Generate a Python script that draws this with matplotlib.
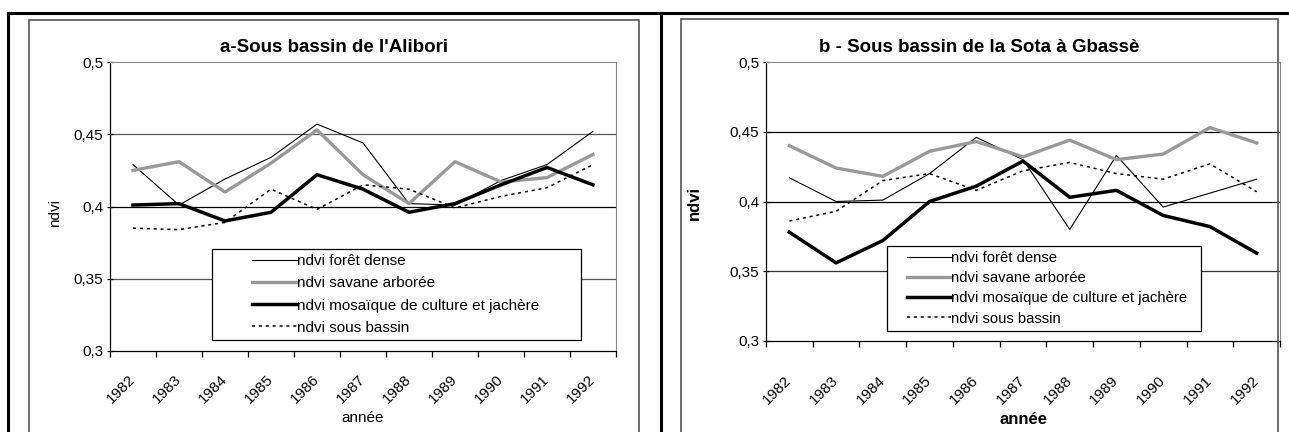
import numpy as np
import matplotlib
matplotlib.use('Agg')
import matplotlib.pyplot as plt
from matplotlib.patches import Rectangle
from matplotlib.lines import Line2D
from matplotlib.transforms import ScaledTranslation

plt.rcParams['font.family'] = ['Liberation Sans', 'DejaVu Sans']

years = ['1982', '1983', '1984', '1985', '1986', '1987', '1988', '1989', '1990', '1991', '1992']

# a - Alibori
a_foret = [0.429, 0.401, 0.419, 0.434, 0.457, 0.444, 0.402, 0.401, 0.418, 0.429, 0.452]
a_savane = [0.425, 0.431, 0.410, 0.430, 0.453, 0.422, 0.402, 0.431, 0.417, 0.420, 0.436]
a_mosaique = [0.401, 0.402, 0.390, 0.396, 0.422, 0.412, 0.396, 0.402, 0.415, 0.427, 0.415]
a_bassin = [0.385, 0.384, 0.389, 0.412, 0.398, 0.415, 0.412, 0.399, 0.407, 0.413, 0.429]

# b - Sota a Gbasse
b_foret = [0.417, 0.400, 0.401, 0.420, 0.446, 0.430, 0.380, 0.433, 0.396, 0.406, 0.416]
b_savane = [0.440, 0.424, 0.418, 0.436, 0.443, 0.432, 0.444, 0.430, 0.434, 0.453, 0.442]
b_mosaique = [0.378, 0.356, 0.372, 0.400, 0.411, 0.429, 0.403, 0.408, 0.390, 0.382, 0.363]
b_bassin = [0.386, 0.393, 0.415, 0.420, 0.408, 0.422, 0.428, 0.420, 0.416, 0.427, 0.407]

labels = ['ndvi forêt dense', 'ndvi savane arborée',
          'ndvi mosaïque de culture et jachère', 'ndvi sous bassin']
yticks = [0.3, 0.35, 0.4, 0.45, 0.5]
ytick_labels = ['0,3', '0,35', '0,4', '0,45', '0,5']

W, H = 1289, 432
fig = plt.figure(figsize=(W/100, H/100), dpi=100)

def px(x0, y0, x1, y1):
    # pixel box -> figure fraction [left, bottom, width, height]
    return [x0/W, 1-y1/H, (x1-x0)/W, (y1-y0)/H]

# outer thick lines
fig.add_artist(Line2D([8/W, 1], [1-13/H, 1-13/H], color='black', lw=2.2))
fig.add_artist(Line2D([8/W, 8/W], [1-13/H, 0], color='black', lw=2.2))
fig.add_artist(Line2D([661/W, 661/W], [1-13/H, 0], color='black', lw=2.2))
# chart frames
fig.add_artist(Rectangle((29/W, -0.05), (639-29)/W, 1.05-20/H, transform=fig.transFigure,
                         fill=False, ec='#555555', lw=1.2))
fig.add_artist(Rectangle((681/W, -0.05), (1278-681)/W, 1.05-19/H, transform=fig.transFigure,
                         fill=False, ec='#555555', lw=1.2))


def panel(pbox, frame_x, title, series, bold, grid_cols, legbox, handle_x,
          leg_fs, leg_sp, xpad, xl_y, yl_x, yl_y):
    x0, y0, x1, y1 = pbox
    ax = fig.add_axes(px(*pbox))
    tx = lambda p: (p - x0) / (x1 - x0)
    ty = lambda p: (y1 - p) / (y1 - y0)
    x = np.arange(len(years))
    ax.plot(x, series[0], color='black', lw=0.8, label=labels[0])
    ax.plot(x, series[1], color='#999999', lw=2.4, label=labels[1])
    ax.plot(x, series[2], color='black', lw=2.5, label=labels[2])
    ax.plot(x, series[3], color='black', lw=1.1, ls=(0, (2, 2.5)), label=labels[3])
    ax.set_xlim(-0.5, len(years)-0.5)
    ax.set_ylim(0.3, 0.5)
    for yv, c in zip([0.35, 0.4, 0.45], grid_cols):
        ax.axhline(yv, color=c, lw=0.9, zorder=0)
    ax.set_yticks(yticks)
    ax.set_yticklabels(ytick_labels, fontsize=11)
    ax.set_xticks(np.arange(len(years)+1)-0.5)
    ax.set_xticklabels([])
    ax.set_xticks(x, minor=True)
    ax.set_xticklabels(years, minor=True, rotation=45, ha='right', va='center',
                       rotation_mode='anchor', fontsize=11)
    for lab in ax.get_xticklabels(minor=True):
        lab.set_transform(lab.get_transform() + ScaledTranslation(-3/100, 0, fig.dpi_scale_trans))
    ax.tick_params(axis='x', which='minor', length=0, pad=xpad)
    ax.tick_params(axis='x', which='major', length=4, width=0.9, direction='out')
    ax.tick_params(axis='y', length=4, width=0.9, direction='inout', pad=3)
    ax.spines['top'].set_color('#888888')
    ax.spines['right'].set_color('#888888')
    ax.spines['left'].set_linewidth(0.9)
    ax.spines['bottom'].set_linewidth(0.9)
    fig.text(frame_x/W, 1-47/H, title, fontsize=13.5, fontweight='bold',
             ha='center', va='center')
    w = 'bold' if bold else 'normal'
    fs = 12 if bold else 11
    ax.set_ylabel('ndvi', fontsize=fs, fontweight=w)
    ax.yaxis.set_label_coords(tx(yl_x), ty(yl_y))
    ax.set_xlabel('année', fontsize=fs, fontweight=w)
    ax.xaxis.set_label_coords(0.5, ty(xl_y))
    # legend box
    lx0, ly0, lx1, ly1 = legbox
    ax.add_patch(Rectangle((tx(lx0), ty(ly1)), tx(lx1)-tx(lx0), ty(ly0)-ty(ly1),
                           transform=ax.transAxes, fc='white', ec='black', lw=0.9,
                           zorder=4.5, clip_on=False))
    ax.legend(loc='upper left', bbox_to_anchor=(tx(handle_x-3), ty(ly0+2)),
              fontsize=leg_fs, frameon=False, handlelength=2.95, handletextpad=0.0,
              labelspacing=leg_sp, borderpad=0.2, borderaxespad=0)
    return ax


panel((110, 62, 616, 351), 334, "a-Sous bassin de l'Alibori",
      [a_foret, a_savane, a_mosaique, a_bassin], False,
      ['#555555', 'black', '#555555'], (212, 249, 581, 340), 252,
      11, 0.54, 19, 411, 62, 213)
panel((766, 62, 1280, 341), 979, 'b - Sous bassin de la Sota à Gbassè',
      [b_foret, b_savane, b_mosaique, b_bassin], True,
      ['#333333', 'black', 'black'], (887, 246, 1201, 331), 907,
      10.7, 0.42, 27, 412, 702, 203)

plt.savefig('out.png', dpi=100)
